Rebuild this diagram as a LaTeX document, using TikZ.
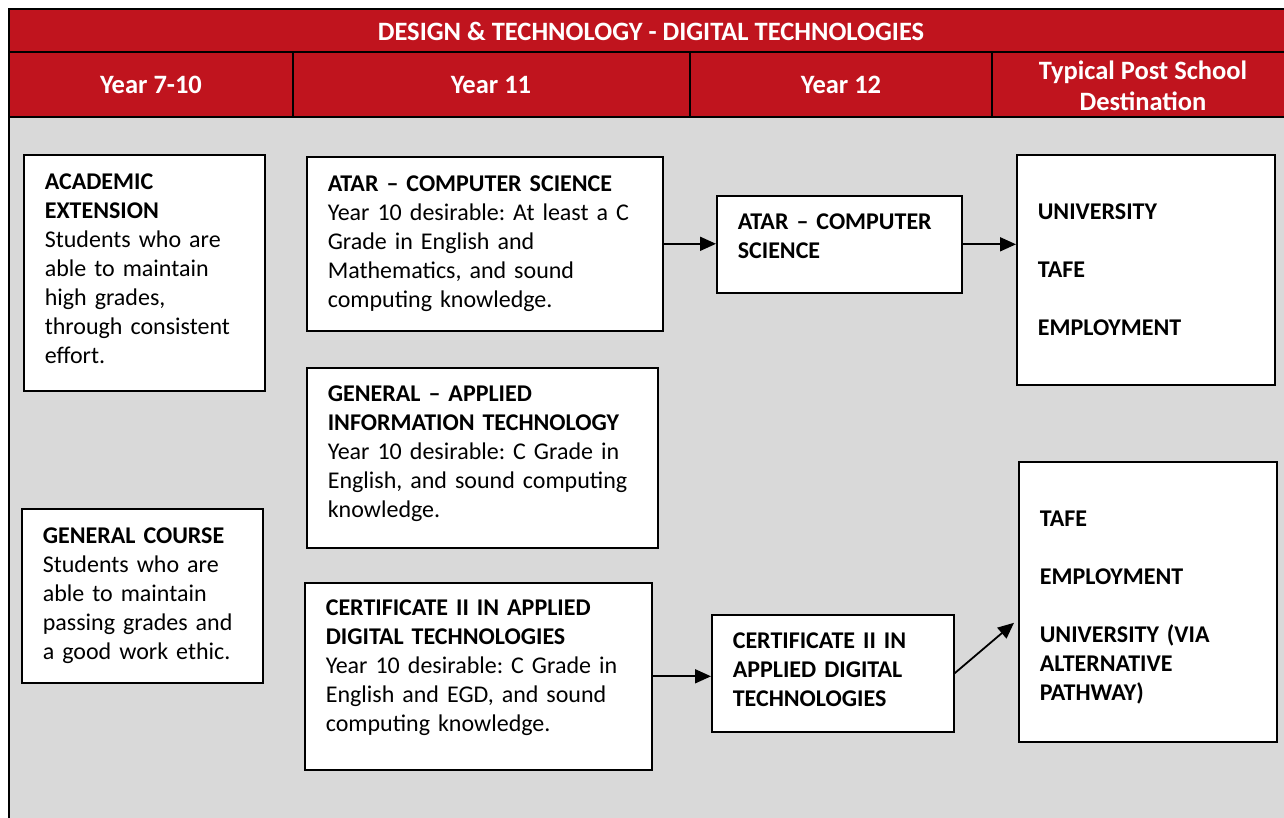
\documentclass[tikz,border=0pt]{standalone}
\usepackage{fontspec}
\setmainfont{Carlito}
\usetikzlibrary{arrows.meta,calc}
\definecolor{hdrred}{RGB}{192,20,30}
\definecolor{bggray}{RGB}{217,217,217}
\newcommand{\dpt}[1]{\rule[-#1pt]{0pt}{0pt}}
\newcommand{\htp}[1]{\rule{0pt}{#1pt}}
\begin{document}
\frenchspacing
\begin{tikzpicture}[x=1pt,y=-1pt,
  box/.style={draw=black,line width=1.6pt,fill=white,anchor=north west,align=left,
    inner ysep=0pt,inner xsep=21pt,font=\frenchspacing\fontsize{24}{29}\selectfont},
  hdr/.style={text=white,font=\bfseries\fontsize{26.5}{31}\selectfont,align=center},
  frame/.style={line width=2.6pt,black},
  conn/.style={line width=1.8pt,-{Triangle[length=16pt,width=14pt]}}]
\useasboundingbox (0,0) rectangle (1284,818);
\clip (0,0) rectangle (1284,818);
% background
\fill[bggray] (9,117) rectangle (1300,830);
\fill[hdrred] (9,9) rectangle (1300,117);
\draw[frame] (9,830) -- (9,9) -- (1300,9);
\draw[frame] (9,52) -- (1300,52);
\draw[frame] (9,117) -- (1300,117);
\draw[frame] (293,52) -- (293,117);
\draw[frame] (690,52) -- (690,117);
\draw[frame] (992,52) -- (992,117);
% header texts
\node[hdr] (title) at (651,31) {DESIGN \& TECHNOLOGY - DIGITAL TECHNOLOGIES};
\node[hdr] (h1) at (151,85) {Year 7-10};
\node[hdr] (h2) at (491,85) {Year 11};
\node[hdr] (h3) at (841,85) {Year 12};
\node[hdr] (h4) at (1143,86) {Typical Post School\\Destination};
% boxes
\node[box,text width=199pt,minimum height=236pt] (acad) at (23,154)
  {\textbf{ACADEMIC}\\\textbf{EXTENSION}\\Students who are\\able to maintain\\high grades,\\through consistent\\effort.\dpt{8}};
\node[box,text width=199pt,minimum height=174pt] (gen) at (21,508)
  {\textbf{GENERAL COURSE}\\Students who are\\able to maintain\\passing grades and\\a good work ethic.};
\node[box,text width=314pt,minimum height=174pt] (atar11) at (306,156)
  {\textbf{ATAR – COMPUTER SCIENCE}\\Year 10 desirable: At least a C\\Grade in English and\\Mathematics, and sound\\computing knowledge.};
\node[box,text width=309pt,minimum height=180pt] (ait11) at (306,367)
  {\textbf{GENERAL – APPLIED}\\\textbf{INFORMATION TECHNOLOGY}\\Year 10 desirable: C Grade in\\English, and sound computing\\knowledge.\dpt{13}};
\node[box,text width=305pt,minimum height=187pt] (cert11) at (304,582)
  {\textbf{CERTIFICATE II IN APPLIED}\\\textbf{DIGITAL TECHNOLOGIES}\\Year 10 desirable: C Grade in\\English and EGD, and sound\\computing knowledge.\dpt{21}};
\node[box,text width=203pt,minimum height=97pt] (atar12) at (716,195)
  {\textbf{ATAR – COMPUTER}\\\textbf{SCIENCE}\dpt{16}};
\node[box,text width=200pt,minimum height=117pt] (cert12) at (711,614)
  {\textbf{CERTIFICATE II IN}\\\textbf{APPLIED DIGITAL}\\\textbf{TECHNOLOGIES}\dpt{8}};
\node[box,text width=216pt,minimum height=230pt,font=\bfseries\fontsize{24}{29}\selectfont] (dest1) at (1016,154)
  {UNIVERSITY\\[29pt]TAFE\\[29pt]EMPLOYMENT};
\node[box,text width=216pt,minimum height=280pt,font=\bfseries\fontsize{24}{29}\selectfont] (dest2) at (1018,461)
  {\htp{28}TAFE\\[29pt]EMPLOYMENT\\[29pt]UNIVERSITY (VIA\\ALTERNATIVE\\PATHWAY)};
% connectors
\coordinate (d2in) at ($(dest2.west)+(-4,21)$);
\draw[conn] (atar11.east) -- (atar12.west |- atar11.east);
\draw[conn] (atar12.east) -- (dest1.west |- atar12.east);
\draw[conn] (cert11.east) -- (cert12.west |- cert11.east);
\draw[conn] (cert12.east) -- (d2in);
\end{tikzpicture}
\end{document}
